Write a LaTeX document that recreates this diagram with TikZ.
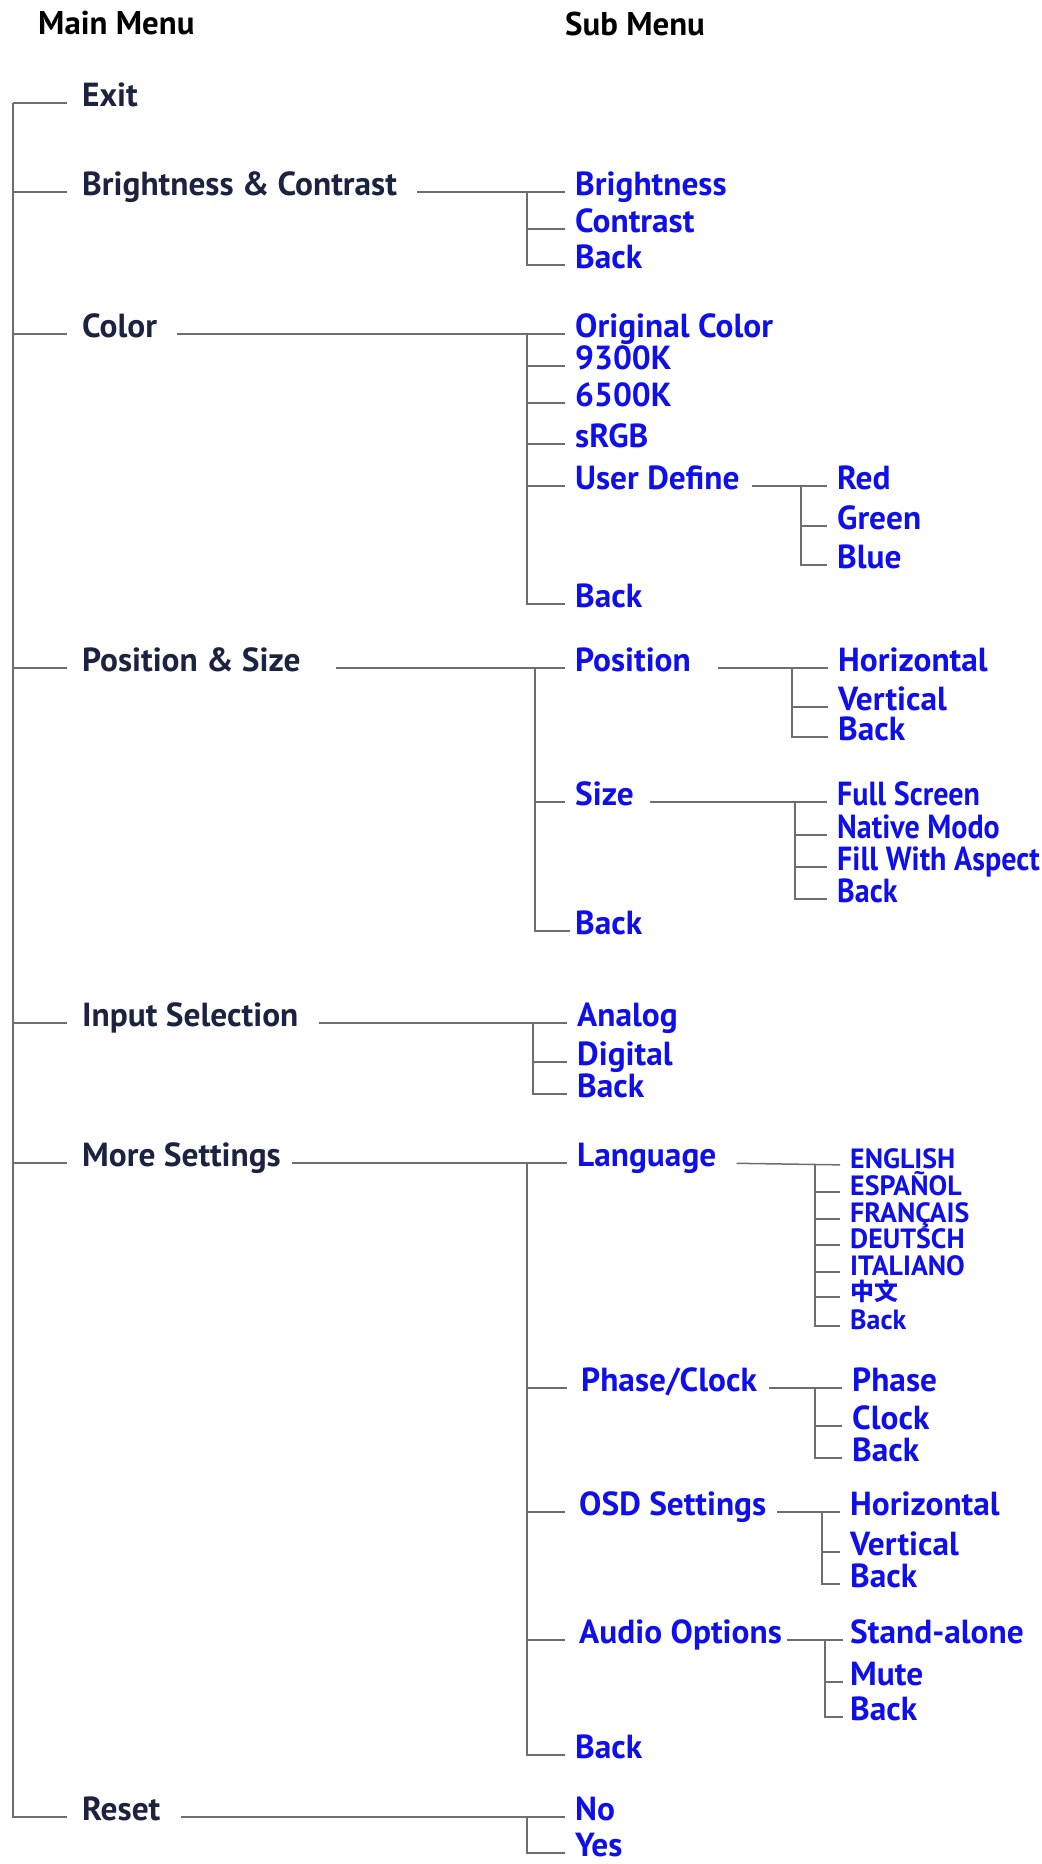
\documentclass[tikz,border=0pt]{standalone}
\usepackage{fontspec}
\setmainfont{PT Sans}
\newfontfamily\cjk{Noto Sans CJK SC}
\usepackage{xcolor}
\definecolor{menunavy}{HTML}{1B2340}
\definecolor{menublue}{HTML}{0F0FEA}
\definecolor{menuline}{HTML}{6E6E6E}

\tikzset{
  title/.style={anchor=west, inner sep=0pt, text height=0.7em, text depth=0pt, font=\fontsize{33}{38}\selectfont\bfseries, text=black},
  mainitem/.style={anchor=west, inner sep=0pt, text height=0.7em, text depth=0pt, font=\fontsize{33.5}{38}\selectfont\bfseries, text=menunavy},
  subitem/.style={anchor=west, inner sep=0pt, text height=0.7em, text depth=0pt, font=\fontsize{33.5}{38}\selectfont\bfseries, text=menublue},
  langitem/.style={subitem, font=\fontsize{28}{31}\selectfont\bfseries},
  link/.style={draw=menuline, line width=1.5bp, shorten >=10bp},
  parent/.style={link, shorten <=20bp}
}

\begin{document}
\begin{tikzpicture}[x=1bp, y=-1bp]
        \useasboundingbox (0,-6) rectangle (1041,1858);

        % Headings
        \node[title] (hmain) at (38,25) {Main Menu};
        \node[title] (hsub) at (565,26) {Sub Menu};

        % Main menu
        \node[mainitem] (exit) at (82,97) {Exit};
        \node[mainitem] (bc) at (82,186) {Brightness \& Contrast};
        \node[mainitem] (color) at (82,328) {Color};
        \node[mainitem] (possize) at (82,662) {Position \& Size};
        \node[mainitem] (input) at (82,1017) {Input Selection};
        \node[mainitem] (more) at (82,1157) {More Settings};
        \node[mainitem] (reset) at (82,1811) {Reset};

        \coordinate (trunk) at (13,97);
        \draw[link, shorten >=15bp] (trunk) |- (reset.west);
        \foreach \m in {exit,bc,color,possize,input,more}
            \draw[link, shorten >=15bp] (trunk |- \m.west) -- (\m.west);

        % Brightness & Contrast
        \node[subitem] (bri) at (575,186) {Brightness};
        \node[subitem] (con) at (575,223) {Contrast};
        \node[subitem] (bcback) at (575,259) {Back};
        \coordinate (jbc) at (527,186);
        \draw[parent] (bc.east) -- (bri.west);
        \draw[link] (jbc) |- (bcback.west);
        \draw[link] (jbc |- con.west) -- (con.west);

        % Color
        \node[subitem] (orig) at (575,328) {Original Color};
        \node[subitem] (k93) at (575,360) {9300K};
        \node[subitem] (k65) at (575,397) {6500K};
        \node[subitem] (srgb) at (575,438) {sRGB};
        \node[subitem] (user) at (575,480) {User Define};
        \node[subitem] (colback) at (575,598) {Back};
        \coordinate (jcol) at (527,328);
        \draw[parent] (color.east) -- (orig.west);
        \draw[link] (jcol) |- (colback.west);
        \foreach \m in {k93,k65,srgb,user}
            \draw[link] (jcol |- \m.west) -- (\m.west);

        \node[subitem] (red) at (837,480) {Red};
        \node[subitem] (green) at (837,520) {Green};
        \node[subitem] (blue) at (837,559) {Blue};
        \coordinate (juser) at (801,480);
        \draw[parent, shorten <=12bp] (user.east) -- (red.west);
        \draw[link] (juser) |- (blue.west);
        \draw[link] (juser |- green.west) -- (green.west);

        % Position & Size
        \node[subitem] (pos) at (575,662) {Position};
        \node[subitem] (size) at (575,796) {Size};
        \node[subitem] (psback) at (575,925) {Back};
        \coordinate (jps) at (535,662);
        \draw[parent, shorten <=35bp] (possize.east) -- (pos.west);
        \draw[link, shorten >=5bp] (jps) |- (psback.west);
        \draw[link] (jps |- size.west) -- (size.west);

        \node[subitem] (hor) at (838,662) {Horizontal};
        \node[subitem] (ver) at (838,701) {Vertical};
        \node[subitem] (posback) at (838,731) {Back};
        \coordinate (jpos) at (792,662);
        \draw[parent, shorten <=27bp] (pos.east) -- (hor.west);
        \draw[link] (jpos) |- (posback.west);
        \draw[link] (jpos |- ver.west) -- (ver.west);

        \node[subitem, xscale=0.9] (full) at (837,796) {Full Screen};
        \node[subitem, xscale=0.9] (native) at (837,829) {Native Modo};
        \node[subitem, xscale=0.9] (fill) at (837,861) {Fill With Aspect};
        \node[subitem, xscale=0.9] (sizeback) at (837,893) {Back};
        \coordinate (jsize) at (795,796);
        \draw[parent, shorten <=16bp] (size.east) -- (full.west);
        \draw[link] (jsize) |- (sizeback.west);
        \foreach \m in {native,fill}
            \draw[link] (jsize |- \m.west) -- (\m.west);

        % Input Selection
        \node[subitem] (analog) at (577,1017) {Analog};
        \node[subitem] (digital) at (577,1056) {Digital};
        \node[subitem] (inback) at (577,1088) {Back};
        \coordinate (jin) at (533,1017);
        \draw[parent] (input.east) -- (analog.west);
        \draw[link] (jin) |- (inback.west);
        \draw[link] (jin |- digital.west) -- (digital.west);

        % More Settings
        \node[subitem] (lang) at (577,1157) {Language};
        \node[subitem] (phase) at (581,1382) {Phase/Clock};
        \node[subitem] (osd) at (579,1506) {OSD Settings};
        \node[subitem] (audio) at (579,1634) {Audio Options};
        \node[subitem] (moreback) at (575,1749) {Back};
        \coordinate (jmore) at (527,1157);
        \draw[parent, shorten <=11bp] (more.east) -- (lang.west);
        \draw[link] (jmore) |- (moreback.west);
        \foreach \m in {phase,osd,audio}
            \draw[link, shorten >=14bp] (jmore |- \m.west) -- (\m.west);

        \node[langitem] (en) at (850,1159) {ENGLISH};
        \node[langitem] (es) at (850,1186) {ESPAÑOL};
        \node[langitem] (fr) at (850,1213) {FRANÇAIS};
        \node[langitem] (de) at (850,1239) {DEUTSCH};
        \node[langitem] (it) at (850,1266) {ITALIANO};
        \node[langitem] (zh) at (850,1291) {\cjk\fontsize{24}{26}\selectfont 中文};
        \node[langitem] (langback) at (850,1320) {Back};
        \coordinate (jlang) at (815,1159);
        \draw[parent] (lang.east) -- (en.west);
        \draw[link] (jlang) |- (langback.west);
        \foreach \m in {es,fr,de,it,zh}
            \draw[link] (jlang |- \m.west) -- (\m.west);

        \node[subitem] (phs) at (852,1382) {Phase};
        \node[subitem] (clk) at (852,1420) {Clock};
        \node[subitem] (phback) at (852,1452) {Back};
        \coordinate (jph) at (815,1382);
        \draw[parent, shorten <=12bp] (phase.east) -- (phs.west);
        \draw[link] (jph) |- (phback.west);
        \draw[link] (jph |- clk.west) -- (clk.west);

        \node[subitem] (ohor) at (850,1506) {Horizontal};
        \node[subitem] (over) at (850,1546) {Vertical};
        \node[subitem] (osdback) at (850,1578) {Back};
        \coordinate (josd) at (822,1506);
        \draw[parent, shorten <=11bp] (osd.east) -- (ohor.west);
        \draw[link] (josd) |- (osdback.west);
        \draw[link] (josd |- over.west) -- (over.west);

        \node[subitem] (stand) at (850,1634) {Stand-alone};
        \node[subitem] (mute) at (850,1676) {Mute};
        \node[subitem] (auback) at (850,1711) {Back};
        \coordinate (jau) at (825,1634);
        \draw[parent, shorten <=5bp, shorten >=7bp] (audio.east) -- (stand.west);
        \draw[link, shorten >=7bp] (jau) |- (auback.west);
        \draw[link, shorten >=7bp] (jau |- mute.west) -- (mute.west);

        % Reset
        \node[subitem] (no) at (575,1811) {No};
        \node[subitem] (yes) at (575,1847) {Yes};
        \coordinate (jres) at (527,1811);
        \draw[parent] (reset.east) -- (no.west);
        \draw[link] (jres) |- (yes.west);

    \end{tikzpicture}
\end{document}
